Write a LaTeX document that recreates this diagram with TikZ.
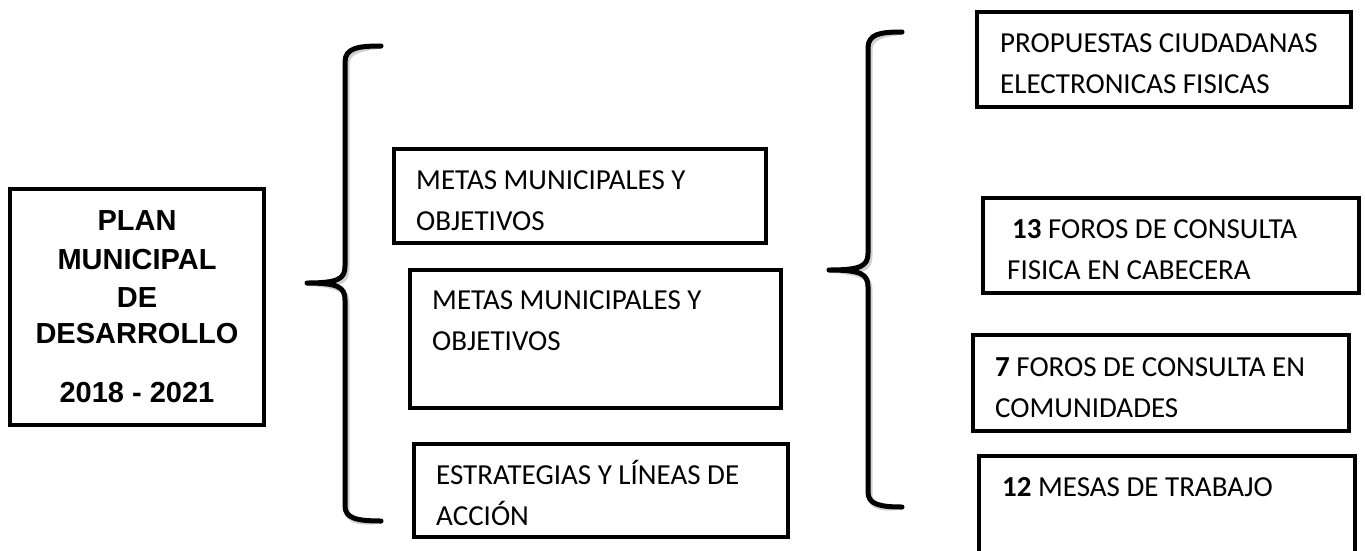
\documentclass[tikz,border=0pt]{standalone}
\usepackage{fontspec}
\setmainfont{Carlito}
\newfontfamily\titlefont{Liberation Sans}
\begin{document}
\begin{tikzpicture}[x=1pt,y=-1pt,
  box/.style={draw=black,line width=4pt,rectangle,inner sep=0pt},
  txt/.style={anchor=base west,inner sep=0pt,font=\fontsize{29}{41}\selectfont},
  ttl/.style={anchor=base,inner sep=0pt,font=\titlefont\bfseries\fontsize{29}{35}\selectfont},
  bracestroke/.style={line width=5pt,line cap=round,line join=round},
  braceshadow/.style={line width=5pt,line cap=round,line join=round,draw=black!18}]
\useasboundingbox (0,0) rectangle (1365,550);
\clip (0,0) rectangle (1365,550);
% boxes
\node[box,minimum width=254pt,minimum height=236pt] (plan) at (137,307) {};
\node[box,minimum width=372pt,minimum height=94pt] (m1) at (580,196) {};
\node[box,minimum width=371pt,minimum height=138pt] (m2) at (595.5,339) {};
\node[box,minimum width=374pt,minimum height=93pt] (est) at (601,490.5) {};
\node[box,minimum width=374pt,minimum height=95pt] (prop) at (1164,59.5) {};
\node[box,minimum width=376pt,minimum height=95pt] (f13) at (1171,245.5) {};
\node[box,minimum width=376pt,minimum height=96pt] (f7) at (1161,383) {};
\node[box,minimum width=376pt,minimum height=124pt] (m12) at (1167,518) {};
% title
\node[ttl] (t1) at (137,230) {PLAN};
\node[ttl] (t2) at (137,269) {MUNICIPAL};
\node[ttl] (t3) at (137,307) {DE};
\node[ttl] (t4) at (137,343) {DESARROLLO};
\node[ttl] (t5) at (137,402) {2018 - 2021};
% texts
\node[txt] (m1t) at (416,189) {\parbox[t]{340pt}{METAS MUNICIPALES Y\\OBJETIVOS}};
\node[txt] (m2t) at (432,309) {\parbox[t]{340pt}{METAS MUNICIPALES Y\\OBJETIVOS}};
\node[txt] (estt) at (436,484) {\parbox[t]{340pt}{ESTRATEGIAS Y LÍNEAS DE\\ACCIÓN}};
\node[txt] (propt) at (1000,52) {\parbox[t]{340pt}{PROPUESTAS CIUDADANAS\\ELECTRONICAS FISICAS}};
\node[txt] (f13t) at (1007,238) {\parbox[t]{340pt}{\hspace*{5pt}\textbf{13} FOROS DE CONSULTA\\FISICA EN CABECERA}};
\node[txt] (f7t) at (995,376) {\parbox[t]{340pt}{\textbf{7} FOROS DE CONSULTA EN\\COMUNIDADES}};
\node[txt] (m12t) at (1002,496) {\textbf{12} MESAS DE TRABAJO};
% left brace
\coordinate (la) at (381,46);
\coordinate (lt) at (307,283);
\coordinate (lb) at (381,521);
\foreach \st/\dx/\dy in {braceshadow/2/3,bracestroke/0/0}{
\draw[\st,shift={(\dx,\dy)}] (la) .. controls (358,46) and (345,48) .. (345,62)
  -- (345,266) .. controls (345,279) and (338,283) .. (lt)
  .. controls (338,283) and (345,287) .. (345,300)
  -- (345,506) .. controls (345,518) and (356,521) .. (lb);
}
% right brace
\coordinate (ra) at (902,32);
\coordinate (rt) at (829,270);
\coordinate (rb) at (902,507);
\foreach \st/\dx/\dy in {braceshadow/2/3,bracestroke/0/0}{
\draw[\st,shift={(\dx,\dy)}] (ra) .. controls (880,32) and (868,34) .. (868,48)
  -- (868,253) .. controls (868,266) and (861,270) .. (rt)
  .. controls (861,270) and (868,274) .. (868,287)
  -- (868,492) .. controls (868,504) and (879,507) .. (rb);
}
\end{tikzpicture}
\end{document}
